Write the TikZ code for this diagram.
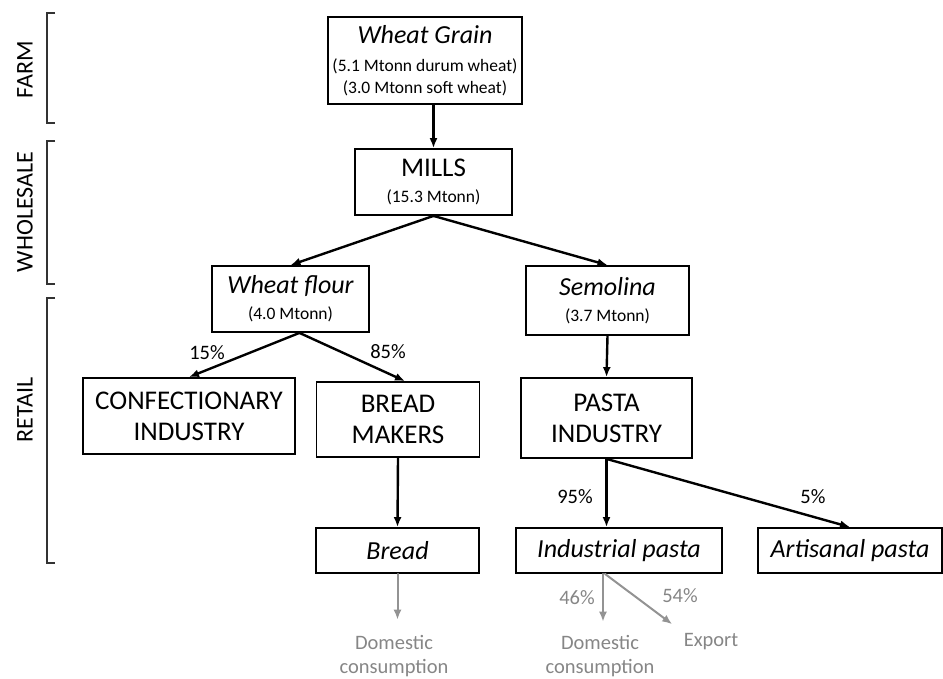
\documentclass[tikz,border=0pt]{standalone}
\usepackage{fontspec}
\setmainfont{Carlito}
\usepackage{tikz}
\usetikzlibrary{arrows,arrows.meta,calc}

\newcommand{\fsTitle}{\fontsize{26}{29}\selectfont}
\newcommand{\fsBox}{\fontsize{27}{31}\selectfont}
\newcommand{\fsSmall}{\fontsize{17.5}{22}\selectfont}
\newcommand{\fsLabel}{\fontsize{20.5}{24}\selectfont}

\tikzstyle{tsBox} = [
    rectangle,
    draw=black,
    line width=1.8pt,
    align=center,
    inner sep=2pt,
    text=black,
    font=\fsBox
]
\tikzstyle{tsArrow} = [
    -{Latex[length=10pt,width=8pt]},
    line width=2.4pt,
    line cap=round
]
\tikzstyle{tsGreyArrow} = [
    tsArrow,
    draw=gray!85,
    line width=2pt
]
\tikzstyle{tsPercent} = [
    font=\fsLabel,
    text=black
]
\tikzstyle{tsGreyText} = [
    font=\fsLabel,
    text=gray!95,
    align=center
]
\tikzstyle{tsStage} = [
    font=\fontsize{24}{28}\selectfont,
    rotate=90,
    text=black
]
\tikzstyle{tsBracket} = [
    draw=black!80,
    line width=1.2pt
]

\begin{document}
\begin{tikzpicture}[x=1pt, y=-1pt]
    \useasboundingbox (0,0) rectangle (943,678);

    % stages of the chain
    \draw[tsBracket] (55,13) -- (47,13) -- (47,123) -- (55,123);
    \draw[tsBracket] (55,141) -- (47,141) -- (47,284) -- (55,284);
    \draw[tsBracket] (55,298) -- (47,298) -- (47,563) -- (55,563);
    \node[tsStage] (farm) at (25,70) {FARM};
    \node[tsStage] (wholesale) at (25,212) {WHOLESALE};
    \node[tsStage] (retail) at (25,410) {RETAIL};

    % boxes
    \node[  tsBox,
            minimum width=194pt,
            minimum height=87pt] (grain) at (425,60.5)
            {{\fsTitle\itshape Wheat Grain}\\[-3pt]
             {\fsSmall (5.1 Mtonn durum wheat)}\\[-9pt]
             {\fsSmall (3.0 Mtonn soft wheat)}};

    \node[  tsBox,
            minimum width=157pt,
            minimum height=66pt] (mills) at (433.5,182)
            {MILLS\\[-5pt]{\fsSmall (15.3 Mtonn)}};

    \node[  tsBox,
            minimum width=157pt,
            minimum height=66pt] (flour) at (290.5,299)
            {{\fsTitle\itshape Wheat flour}\\[-5pt]{\fsSmall (4.0 Mtonn)}};

    \node[  tsBox,
            minimum width=163pt,
            minimum height=69pt] (semolina) at (607.5,300.5)
            {{\fsTitle\itshape Semolina}\\[-5pt]{\fsSmall (3.7 Mtonn)}};

    \node[  tsBox,
            minimum width=212pt,
            minimum height=76pt] (confec) at (189,416)
            {CONFECTIONARY\\INDUSTRY};

    \node[  tsBox,
            minimum width=163pt,
            minimum height=75pt] (breadmakers) at (398,419.5)
            {BREAD\\MAKERS};

    \node[  tsBox,
            minimum width=171pt,
            minimum height=80pt] (pasta) at (606.5,418)
            {PASTA\\INDUSTRY};

    \node[  tsBox,
            minimum width=163pt,
            minimum height=45pt] (bread) at (397.5,550.5)
            {\fsTitle\itshape Bread};

    \node[  tsBox,
            minimum width=206pt,
            minimum height=45pt] (indpasta) at (619,550.5)
            {\fsTitle\itshape Industrial pasta};

    \node[  tsBox,
            minimum width=184pt,
            minimum height=45pt] (artpasta) at (850,550.5)
            {\fsTitle\itshape Artisanal pasta};

    % final destinations
    \node[tsGreyText] (domestic1) at (394,656) {Domestic\\consumption};
    \node[tsGreyText] (domestic2) at (600,656) {Domestic\\consumption};
    \node[tsGreyText] (export) at (711,642) {Export};

    % flows
    \draw[tsArrow] (grain.south -| mills.north) -- (mills.north);
    \draw[tsArrow] (mills.south) -- (flour.north);
    \draw[tsArrow] (mills.south) -- (semolina.north);
    \draw[tsArrow] ($(flour.south)+(9,0)$) -- (confec.north);
    \draw[tsArrow] ($(flour.south)+(9,0)$) -- ($(breadmakers.north)+(7,0)$);
    \draw[tsArrow] (breadmakers.south) -- (bread.north);
    \draw[tsArrow] (semolina.south) -- (pasta.north);
    \draw[tsArrow] (pasta.south) -- (pasta.south |- indpasta.north);
    \draw[tsArrow] (pasta.south) -- (artpasta.north);

    \draw[tsGreyArrow] (bread.south) -- ($(bread.south |- domestic1.north)+(0,-12)$);
    \draw[tsGreyArrow] ($(indpasta.south)+(-16,0)$) -- ($(indpasta.south |- domestic2.north)+(-16,-10)$);
    \draw[tsGreyArrow] ($(indpasta.south)+(-14,0)$) -- ($(export.north west)+(-8,-6)$);

    % shares
    \node[tsPercent] (p15) at (207,353) {15\%};
    \node[tsPercent] (p85) at (388,352) {85\%};
    \node[tsPercent] (p95) at (575,497) {95\%};
    \node[tsPercent] (p5) at (813,497) {5\%};
    \node[tsPercent, text=gray!95] (p46) at (577,598) {46\%};
    \node[tsPercent, text=gray!95] (p54) at (680,596) {54\%};

\end{tikzpicture}
\end{document}
